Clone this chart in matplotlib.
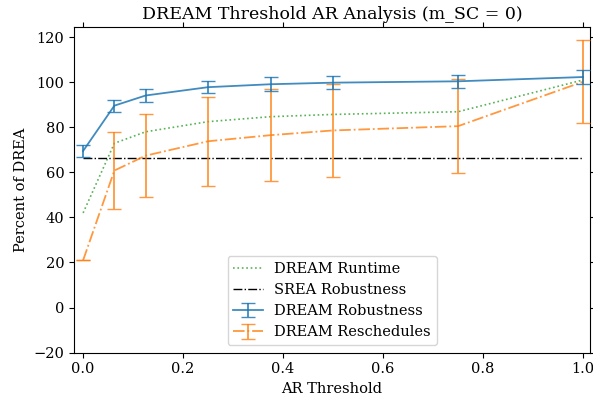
import matplotlib
matplotlib.use('Agg')
import matplotlib.pyplot as plt

plt.rcParams['font.family'] = 'DejaVu Serif'
plt.rcParams['font.size'] = 10.5

thresholds = [0.0, 0.0625, 0.125, 0.25, 0.375, 0.5, 0.75, 1.0]
robust_mean = [69.5, 89.6, 94.1, 97.8, 99.1, 99.8, 100.4, 102.3]
robust_err = [2.6, 2.6, 2.8, 2.7, 3.0, 3.0, 3.0, 3.0]
resched_mean = [21.0, 60.8, 67.4, 73.8, 76.5, 78.6, 80.5, 100.2]
resched_err = [0.0, 17.1, 18.5, 19.8, 20.3, 20.5, 20.9, 18.4]
runtime = [42.0, 72.9, 78.0, 82.5, 84.7, 85.7, 86.9, 101.0]
srea_robust = [66.2] * len(thresholds)

fig, ax = plt.subplots(figsize=(5.93, 4.03), dpi=100)

ax.errorbar(thresholds, robust_mean, yerr=robust_err, color='C0', capsize=5,
            linewidth=1.3, alpha=0.85, zorder=4, label='DREAM Robustness')
ax.errorbar(thresholds, resched_mean, yerr=resched_err, color='C1', capsize=5,
            linewidth=1.3, linestyle='-.', alpha=0.8, zorder=3, label='DREAM Reschedules')
ax.plot(thresholds, runtime, color='C2', linestyle=':', linewidth=1.2, alpha=0.8,
        label='DREAM Runtime')
ax.plot(thresholds, srea_robust, color='black', linestyle='-.', linewidth=1.0,
        label='SREA Robustness')

ax.set_xlim(-0.018, 1.014)
ax.set_ylim(-20, 124.5)
ax.set_yticks([-20, 0, 20, 40, 60, 80, 100, 120])
ax.tick_params(top=True, right=True)
ax.set_title('DREAM Threshold AR Analysis (m_SC = 0)', fontsize=12.5)
ax.set_xlabel('AR Threshold')
ax.set_ylabel('Percent of DREA')
ax.legend(loc='lower center')

fig.subplots_adjust(left=0.125, right=0.995, top=0.933, bottom=0.125)
fig.savefig('out.png')
